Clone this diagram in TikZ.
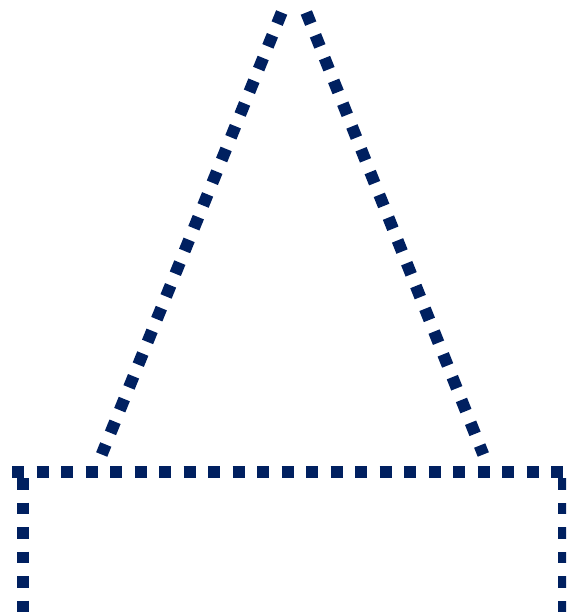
\documentclass[tikz,border=0pt]{standalone}
\definecolor{navy}{RGB}{0,32,96}
\begin{document}
\begin{tikzpicture}[x=1pt,y=-1pt,
  dotline/.style={draw=navy,line width=12pt,line cap=butt,dash pattern=on 12pt off 12.55pt}]
\useasboundingbox (0,0) rectangle (566,613);
\clip (0,0) rectangle (566,613);
% triangle sides
\coordinate (lt) at (281.7,12.5);
\coordinate (lb) at (101.7,454.5);
\coordinate (rt) at (306.3,12.5);
\coordinate (rb) at (483.3,454.5);
\draw[dotline] (lt) -- (lb);
\draw[dotline] (rt) -- (rb);
% box
\coordinate (hl) at (12,471.5);
\coordinate (hr) at (564,471.5);
\draw[dotline,dash pattern=on 12pt off 12.5pt] (hl) -- (hr);
\coordinate (vlt) at (23,478);
\coordinate (vlb) at (23,630);
\coordinate (vrt) at (564,478);
\coordinate (vrb) at (564,630);
\draw[dotline,dash pattern=on 11.5pt off 13pt] (vlt) -- (vlb);
\draw[dotline,dash pattern=on 11.5pt off 13pt] (vrt) -- (vrb);
\end{tikzpicture}
\end{document}
